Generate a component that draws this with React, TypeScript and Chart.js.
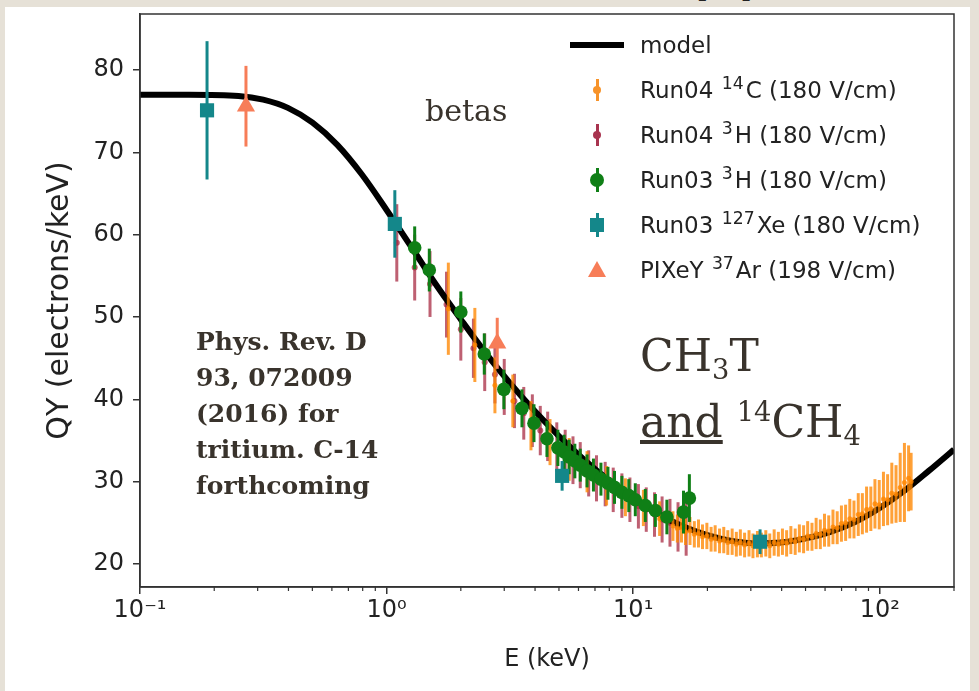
import React, { useEffect, useRef } from 'react';
import { Chart, registerables } from 'chart.js';

Chart.register(...registerables);

// ---------------- data ----------------
const modelE = [0.1, 0.158, 0.251, 0.316, 0.398, 0.501, 0.631, 0.794, 1.0, 1.26, 1.58, 2.0, 2.51, 3.16, 3.98, 5.01, 6.31, 7.94, 10, 12.6, 15.8, 20, 25.1, 31.6, 39.8, 50.1, 63.1, 79.4, 100, 126, 158, 200];
const modelQY = [77.0, 77.0, 76.85, 76.4, 75.4, 73.6, 70.9, 67.3, 63.0, 58.5, 54.0, 49.7, 45.7, 42.0, 38.6, 35.5, 32.7, 30.2, 28.0, 26.1, 24.6, 23.5, 22.8, 22.5, 22.6, 23.1, 23.9, 25.1, 26.8, 28.9, 31.3, 33.9];

// Run04 14C (orange)
const c14E = [1.78, 2.28, 2.75, 3.25, 3.85, 4.6, 5.5, 6.5, 7.8, 9.3, 11.0, 12.8,
  14.5, 15.1, 15.7, 16.3, 17.0, 17.7, 18.4, 19.1, 19.9, 20.7, 21.5, 22.4, 23.3, 24.2, 25.2, 26.2, 27.2, 28.3, 29.5, 30.6,
  31.9, 33.1, 34.5, 35.8, 37.3, 38.8, 40.3, 41.9, 43.6, 45.4, 47.2, 49.1, 51.0, 53.1, 55.2, 57.4, 59.7, 62.1, 64.6, 67.2,
  69.9, 72.7, 75.6, 78.6, 81.8, 85.0, 88.4, 92.0, 95.6, 99.5, 103.5, 107.6, 111.9, 116.4, 121, 125.9, 130.9, 134];
const c14QY = [51.0, 46.6, 41.7, 39.8, 36.8, 34.8, 32.7, 31.2, 29.5, 28.1, 26.8, 25.5,
  24.6, 24.3, 24.4, 23.9, 24.0, 23.6, 23.7, 23.3, 23.4, 23.0, 23.1, 22.8, 22.9, 22.6, 22.7, 22.4, 22.6, 22.3, 22.5, 22.2,
  22.4, 22.3, 22.5, 22.2, 22.6, 22.4, 22.7, 22.5, 22.9, 22.7, 23.1, 23.0, 23.4, 23.3, 23.7, 23.6, 24.1, 24.0, 24.5, 24.4,
  24.9, 25.0, 25.5, 25.4, 26.0, 26.1, 26.6, 26.7, 27.3, 27.2, 27.9, 27.8, 28.6, 28.5, 29.3, 29.9, 30.4, 30.0];
const c14Err = [5.6, 4.5, 3.4, 3.2, 3.0, 2.8, 2.6, 2.5, 2.4, 2.3, 2.2, 2.1,
  1.8, 1.7, 1.8, 1.6, 1.7, 1.6, 1.7, 1.5, 1.6, 1.5, 1.6, 1.5, 1.6, 1.5, 1.6, 1.5, 1.6, 1.5, 1.6, 1.5,
  1.6, 1.5, 1.6, 1.5, 1.6, 1.5, 1.6, 1.6, 1.7, 1.6, 1.7, 1.7, 1.8, 1.7, 1.9, 1.8, 2.0, 1.9, 2.1, 2.0,
  2.2, 2.2, 2.4, 2.3, 2.6, 2.5, 2.8, 2.7, 3.0, 3.0, 3.3, 3.1, 3.7, 3.5, 4.2, 4.8, 4.0, 3.5];

// Run04 3H (maroon)
const h3r4E = [1.1, 1.3, 1.5, 1.75, 2.0, 2.25, 2.5, 2.75, 3.0, 3.3, 3.6, 3.9, 4.2, 4.5, 4.9, 5.3, 5.7, 6.1, 6.6, 7.1, 7.7, 8.3, 9.0, 9.7, 10.5, 11.3, 12.2, 13.1, 14.1, 15.2, 16.4];
const h3r4QY = [59.0, 56.0, 54.0, 51.5, 48.5, 46.2, 44.5, 43.0, 41.5, 39.8, 38.3, 37.4, 36.2, 35.5, 34.2, 33.4, 32.6, 32.0, 31.0, 30.4, 29.7, 29.0, 28.3, 27.8, 27.0, 26.6, 26.0, 25.4, 25.0, 24.5, 24.2];
const h3r4Err = [4.7, 4.0, 4.0, 4.0, 3.8, 3.6, 3.5, 3.5, 3.4, 3.3, 3.2, 3.2, 3.0, 3.0, 3.0, 2.9, 2.9, 2.8, 2.8, 2.8, 2.7, 2.7, 2.7, 2.7, 2.7, 2.7, 2.7, 2.8, 2.9, 3.0, 3.2];

// Run03 3H (green)
const h3r3E = [1.3, 1.49, 2.0, 2.49, 2.99, 3.54, 3.96, 4.47, 4.95, 5.25, 5.5, 5.8, 6.1, 6.5, 6.9, 7.4, 7.9, 8.4, 9.0, 9.6, 10.2, 11.2, 12.3, 13.7, 16.0, 16.9];
const h3r3QY = [58.4, 55.7, 50.6, 45.5, 41.2, 38.9, 37.1, 35.2, 34.1, 33.6, 33.0, 32.5, 32.0, 31.3, 30.8, 30.3, 29.8, 29.3, 28.7, 28.3, 27.8, 27.1, 26.5, 25.7, 26.3, 28.0];
const h3r3Err = [2.6, 2.6, 2.5, 2.5, 2.4, 2.3, 2.3, 2.2, 2.2, 2.1, 2.1, 2.1, 2.0, 2.0, 2.0, 2.0, 2.0, 2.0, 2.0, 2.0, 2.0, 2.0, 2.0, 2.1, 2.6, 2.9];

// Run03 127Xe (teal)
const xeE = [0.187, 1.08, 5.15, 32.7];
const xeQY = [75.1, 61.3, 30.7, 22.7];
const xeErr = [8.4, 4.1, 1.8, 1.5];

// PIXeY 37Ar (coral)
const arE = [0.269, 2.81];
const arQY = [75.6, 46.8];
const arErr = [4.9, 3.1];

const xTickValues = [0.1, 1, 10, 100];
const xTickLabels = ['10\u207B\u00B9', '10\u2070', '10\u00B9', '10\u00B2'];
const xMinorTicks = [0.2, 0.3, 0.4, 0.5, 0.6, 0.7, 0.8, 0.9, 2, 3, 4, 5, 6, 7, 8, 9, 20, 30, 40, 50, 60, 70, 80, 90, 200];
const yTickValues = [20, 30, 40, 50, 60, 70, 80];

// ---------------- styles ----------------
const ORANGE = 'rgba(255,135,0,0.78)';
const ORANGE_SOLID = '#f7932a';
const MAROON = 'rgba(165,35,60,0.72)';
const MAROON_SOLID = '#a8344f';
const GREEN = '#0f7f16';
const TEAL = '#14878a';
const CORAL = '#f77d58';
const TEXT = '#39332c';

const pts = (xs: number[], ys: number[]) => xs.map((x, i) => ({ x, y: ys[i] }));

const errorBarPlugin = {
  id: 'errorBars',
  beforeDatasetDraw(chart: any, args: any) {
    const ds = chart.data.datasets[args.index];
    if (!ds.errors) return;
    const { ctx, chartArea: a, scales } = chart;
    ctx.save();
    ctx.beginPath();
    ctx.rect(a.left, a.top, a.right - a.left, a.bottom - a.top);
    ctx.clip();
    ctx.strokeStyle = ds.errorColor;
    ctx.lineWidth = ds.errorWidth;
    ds.data.forEach((p: any, i: number) => {
      const e = ds.errors[i];
      const px = scales.x.getPixelForValue(p.x);
      ctx.beginPath();
      ctx.moveTo(px, scales.y.getPixelForValue(p.y - e));
      ctx.lineTo(px, scales.y.getPixelForValue(p.y + e));
      ctx.stroke();
    });
    ctx.restore();
  },
};

const framePlugin = {
  id: 'frame',
  afterDraw(chart: any) {
    const { ctx, chartArea: a, scales } = chart;
    ctx.save();
    ctx.strokeStyle = '#333';
    ctx.lineWidth = 1.5;
    ctx.strokeRect(a.left, a.top, a.right - a.left, a.bottom - a.top);
    ctx.lineWidth = 1.2;
    ctx.beginPath();
    xMinorTicks.forEach((v) => {
      const px = scales.x.getPixelForValue(v);
      ctx.moveTo(px, a.bottom);
      ctx.lineTo(px, a.bottom + 4);
    });
    ctx.stroke();
    ctx.restore();
  },
};

const zeroPad = (s: any) => { s.paddingTop = 0; s.paddingBottom = 0; s.paddingLeft = 0; s.paddingRight = 0; };

function ChartCanvas() {
  const ref = useRef<HTMLCanvasElement>(null);
  useEffect(() => {
    if (!ref.current) return;
    const font = { family: 'DejaVu Sans', size: 24 };
    const chart = new Chart(ref.current, {
      type: 'scatter',
      data: {
        datasets: [
          {
            label: 'Run03 127Xe', data: pts(xeE, xeQY), errors: xeErr, errorColor: TEAL, errorWidth: 3,
            pointStyle: 'rect', pointRadius: 10, backgroundColor: TEAL, borderWidth: 0, order: 0,
          } as any,
          {
            label: 'PIXeY 37Ar', data: pts(arE, arQY), errors: arErr, errorColor: CORAL, errorWidth: 3,
            pointStyle: 'triangle', pointRadius: 10.5, backgroundColor: CORAL, borderWidth: 0, order: 1,
          } as any,
          {
            label: 'Run03 3H', data: pts(h3r3E, h3r3QY), errors: h3r3Err, errorColor: GREEN, errorWidth: 3,
            pointStyle: 'circle', pointRadius: 6.8, backgroundColor: GREEN, borderWidth: 0, order: 2,
          } as any,
          {
            label: 'Run04 14C', data: pts(c14E, c14QY), errors: c14Err, errorColor: ORANGE, errorWidth: 3,
            pointStyle: 'circle', pointRadius: 2.5, backgroundColor: ORANGE, borderWidth: 0, order: 3,
          } as any,
          {
            label: 'model', data: pts(modelE, modelQY), showLine: true, borderColor: '#000', borderWidth: 6,
            pointRadius: 0, cubicInterpolationMode: 'monotone', fill: false, order: 4,
          } as any,
          {
            label: 'Run04 3H', data: pts(h3r4E, h3r4QY), errors: h3r4Err, errorColor: MAROON, errorWidth: 3,
            pointStyle: 'circle', pointRadius: 3, backgroundColor: MAROON, borderWidth: 0, order: 5,
          } as any,
        ],
      },
      options: {
        animation: false,
        responsive: false,
        maintainAspectRatio: false,
        layout: { padding: { left: 0, top: 14, right: 25, bottom: 0 } },
        plugins: { legend: { display: false }, tooltip: { enabled: false } },
        scales: {
          x: {
            type: 'logarithmic',
            min: 0.1,
            max: 200,
            afterBuildTicks: (s: any) => { s.ticks = xTickValues.map((v) => ({ value: v })); },
            afterFit: (s: any) => { s.height = 104; zeroPad(s); },
            ticks: {
              callback: (_v: any, i: number) => xTickLabels[i],
              font, color: '#222', padding: 2, maxRotation: 0, autoSkip: false,
            },
            grid: { drawOnChartArea: false, drawTicks: true, tickLength: 7, color: '#333', lineWidth: 1.5 },
            border: { display: true, color: '#333', width: 1.5 },
            title: { display: true, text: 'E (keV)', font, color: '#222', padding: { top: 0, bottom: 17 } },
          },
          y: {
            type: 'linear',
            min: 17.2,
            max: 86.8,
            afterBuildTicks: (s: any) => { s.ticks = yTickValues.map((v) => ({ value: v })); },
            afterFit: (s: any) => { s.width = 140; zeroPad(s); },
            ticks: { font, color: '#222', padding: 9 },
            grid: { drawOnChartArea: false, drawTicks: true, tickLength: 7, color: '#333', lineWidth: 1.5 },
            border: { display: true, color: '#333', width: 1.5 },
            title: { display: true, text: 'QY (electrons/keV)', font: { family: 'DejaVu Sans', size: 30 }, color: '#222', padding: { top: 42, bottom: 0 } },
          },
        },
      } as any,
      plugins: [errorBarPlugin, framePlugin],
    });
    return () => chart.destroy();
  }, []);
  return <canvas ref={ref} width={979} height={691} style={{ position: 'absolute', left: 0, top: 0 }} />;
}

const legendRows = [
  { kind: 'line', pre: 'model', sup: '', post: '' },
  { kind: 'orange', pre: 'Run04 ', sup: '14', post: 'C (180 V/cm)' },
  { kind: 'maroon', pre: 'Run04 ', sup: '3', post: 'H (180 V/cm)' },
  { kind: 'green', pre: 'Run03 ', sup: '3', post: 'H (180 V/cm)' },
  { kind: 'teal', pre: 'Run03 ', sup: '127', post: 'Xe (180 V/cm)' },
  { kind: 'coral', pre: 'PIXeY ', sup: '37', post: 'Ar (198 V/cm)' },
];

function Marker({ kind }: { kind: string }) {
  const abs = (s: any) => ({ position: 'absolute', ...s }) as React.CSSProperties;
  const cx = 29;
  if (kind === 'line') return <div style={abs({ left: 2, width: 54, top: -3, height: 6, background: '#000' })} />;
  if (kind === 'orange' || kind === 'maroon') {
    const c = kind === 'orange' ? ORANGE_SOLID : MAROON_SOLID;
    return (
      <>
        <div style={abs({ left: cx - 1.5, width: 3, top: -11, height: 22, background: c })} />
        <div style={abs({ left: cx - 4, width: 8, top: -4, height: 8, borderRadius: 4, background: c })} />
      </>
    );
  }
  if (kind === 'green') {
    return (
      <>
        <div style={abs({ left: cx - 1.5, width: 3, top: -12, height: 24, background: GREEN })} />
        <div style={abs({ left: cx - 7, width: 14, top: -7, height: 14, borderRadius: 7, background: GREEN })} />
      </>
    );
  }
  if (kind === 'teal') {
    return (
      <>
        <div style={abs({ left: cx - 1.5, width: 3, top: -12, height: 24, background: TEAL })} />
        <div style={abs({ left: cx - 7, width: 14, top: -7, height: 14, background: TEAL })} />
      </>
    );
  }
  return <div style={abs({ left: cx - 9, width: 18, top: -9, height: 16, background: CORAL, clipPath: 'polygon(50% 0, 100% 100%, 0 100%)' })} />;
}

function Legend() {
  return (
    <div style={{ position: 'absolute', left: 568, top: 45, fontFamily: 'DejaVu Sans', fontSize: 23, color: '#222' }}>
      {legendRows.map((r, i) => (
        <div key={i} style={{ position: 'absolute', left: 0, top: i * 45, width: 380, height: 0 }}>
          <div style={{ position: 'absolute', left: 0, top: 0, width: 58, height: 0 }}>
            <Marker kind={r.kind} />
          </div>
          <div style={{ position: 'absolute', left: 72, top: -15, lineHeight: '30px', whiteSpace: 'nowrap' }}>
            {r.pre}
            {r.sup && <span style={{ fontSize: '0.75em', position: 'relative', top: '-0.5em', marginLeft: 1, marginRight: 2 }}>{r.sup}</span>}
            {r.post}
          </div>
        </div>
      ))}
    </div>
  );
}

export default function App() {
  const sub: React.CSSProperties = { fontSize: '0.62em', position: 'relative', top: '0.3em' };
  const sup: React.CSSProperties = { fontSize: '0.62em', position: 'relative', top: '-0.6em' };
  return (
    <div style={{ position: 'absolute', left: 0, top: 0, width: 979, height: 691, overflow: 'hidden', background: '#e6e1d7' }}>
      <div style={{ position: 'absolute', left: 688, top: -50, fontFamily: 'DejaVu Sans', fontWeight: 'bold', fontSize: 48, color: '#222' }}>(c)</div>
      <div style={{ position: 'absolute', left: 5, top: 7, width: 965, height: 684, background: '#ffffff' }} />
      <ChartCanvas />
      <Legend />
      <div style={{ position: 'absolute', left: 425, top: 96, fontFamily: 'DejaVu Serif', fontSize: 30, lineHeight: '30px', color: TEXT }}>betas</div>
      <div style={{ position: 'absolute', left: 196, top: 324, fontFamily: 'DejaVu Serif', fontWeight: 'bold', fontSize: 25, lineHeight: '36px', color: TEXT, whiteSpace: 'nowrap' }}>
        <div>Phys. Rev. D</div>
        <div>93, 072009</div>
        <div>(2016) for</div>
        <div>tritium. C-14</div>
        <div>forthcoming</div>
      </div>
      <div style={{ position: 'absolute', left: 640, top: 326, fontFamily: 'DejaVu Serif', fontSize: 44, lineHeight: '60px', color: TEXT, whiteSpace: 'nowrap' }}>
        <div>CH<span style={sub}>3</span>T</div>
        <div><span style={{ textDecoration: 'underline' }}>and</span> <span style={sup}>14</span>CH<span style={sub}>4</span></div>
      </div>
    </div>
  );
}
